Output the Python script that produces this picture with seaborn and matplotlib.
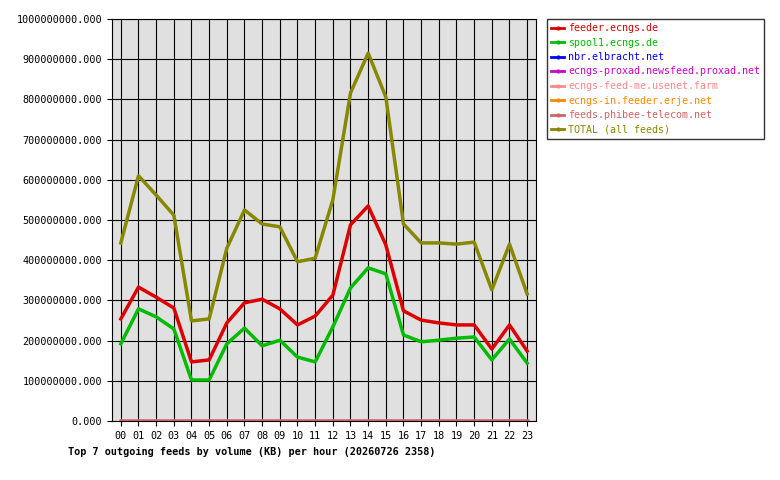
import matplotlib
matplotlib.use("Agg")
import matplotlib.pyplot as plt
import seaborn as sns
import pandas as pd
from matplotlib.ticker import FuncFormatter, MultipleLocator

hours = [f"{h:02d}" for h in range(24)]
feeder = [254,333,308,281,147,152,244,294,303,279,239,261,313,488,535,438,274,251,244,239,239,179,239,174]
spool1 = [192,279,259,229,102,102,192,231,187,201,159,147,234,331,381,366,214,197,201,206,209,152,204,144]
nbr = [0]*24
proxad = [0]*24
usenet = [0]*24
erje = [0]*24
phibee = [0]*24
total = [443,610,562,512,249,254,430,525,490,483,396,405,550,816,915,806,490,443,443,440,445,326,440,316]

names = ["feeder.ecngs.de","spool1.ecngs.de","nbr.elbracht.net","ecngs-proxad.newsfeed.proxad.net",
         "ecngs-feed-me.usenet.farm","ecngs-in.feeder.erje.net","feeds.phibee-telecom.net","TOTAL (all feeds)"]
series = [feeder,spool1,nbr,proxad,usenet,erje,phibee,total]
colors = ["#dd0000","#00bb00","#0000ff","#cc00cc","#ff8888","#ff8800","#cc6666","#888800"]

rows = []
for n, s in zip(names, series):
    for h, v in zip(range(24), s):
        rows.append({"hour": h, "feed": n, "value": v * 1e6})
df = pd.DataFrame(rows)

plt.rcParams['font.family'] = ['DejaVu Sans Mono']
fig = plt.figure(figsize=(7.8, 4.8), dpi=100)
ax = fig.add_axes([112/780, 59/480, 424/780, 402/480])
ax.set_facecolor("#e0e0e0")
for n, c in zip(names, colors):
    d = df[df.feed == n]
    sns.lineplot(data=d, x="hour", y="value", color=c, linewidth=2.5, ax=ax, legend=False)
ax.set_xlim(-0.5, 23.5)
ax.set_ylim(0, 1e9)
ax.set_xticks(range(24))
ax.set_xticklabels(hours, fontsize=7.3)
ax.yaxis.set_major_locator(MultipleLocator(1e8))
ax.yaxis.set_major_formatter(FuncFormatter(lambda v, p: f"{v:.3f}"))
ax.tick_params(axis='y', labelsize=7.3)
ax.grid(True, color="black", linewidth=0.8)
ax.set_axisbelow(True)
ax.set_xlabel("")
ax.set_ylabel("")
fig.text(68/780, 1 - 452/480, "Top 7 outgoing feeds by volume (KB) per hour (20260726 2358)",
         fontsize=7.3, fontweight="bold", va="center")
handles = [plt.Line2D([0], [0], color=c, lw=2, marker='.', markersize=4) for c in colors]
leg = fig.legend(handles, names, loc="upper left", bbox_to_anchor=(547/780, 1 - 19/480),
                 fontsize=7.2, frameon=True, fancybox=False, edgecolor="black",
                 handlelength=1.3, handletextpad=0.4, borderpad=0.4, labelspacing=0.45,
                 borderaxespad=0)
for t, c in zip(leg.get_texts(), colors):
    t.set_color(c)
fig.savefig("out.png", dpi=100, facecolor="white")
